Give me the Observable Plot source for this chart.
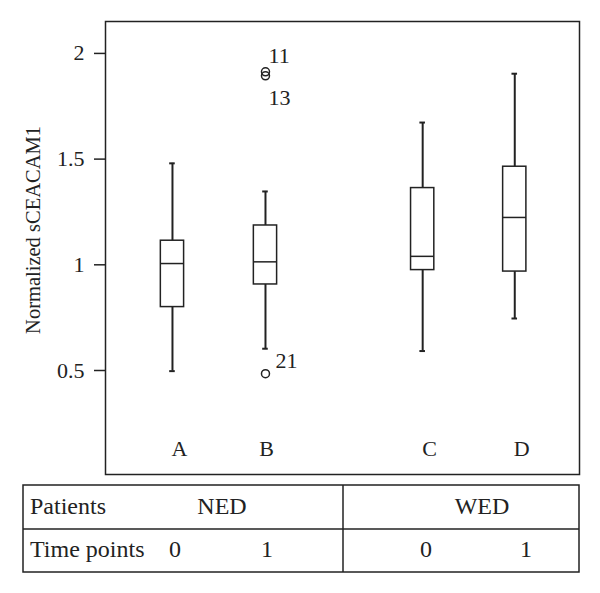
<!DOCTYPE html>
<html><head><meta charset="utf-8">
<script src="https://cdn.jsdelivr.net/npm/d3@7"></script>
<script src="https://cdn.jsdelivr.net/npm/@observablehq/plot@0.6"></script>
<style>body{margin:0;background:#fff;} svg{display:block;}</style>
</head><body><div id="chart"></div><script>
// Box-plot summary values
const groups = ["A", "B", "C", "D"];
const groupPos = [1, 2, 3.69, 4.68];
const whiskerLow = [0.497, 0.603, 0.592, 0.746];
const q1 = [0.800, 0.907, 0.975, 0.968];
const median = [1.006, 1.014, 1.040, 1.224];
const q3 = [1.114, 1.186, 1.363, 1.464];
const whiskerHigh = [1.480, 1.347, 1.673, 1.904];
// Outliers
const outlierGroup = ["B", "B", "B"];
const outlierValue = [1.913, 1.894, 0.485];
const outlierLabel = ["11", "13", "21"];
// Axis
const yTicks = [0.5, 1, 1.5, 2];
const yLabel = "Normalized sCEACAM1";
// Table under the chart
const patientGroups = ["NED", "WED"];
const timePoints = ["0", "1"];

const boxes = groups.map((g, i) => ({
  g, x: groupPos[i], lo: whiskerLow[i], q1: q1[i], med: median[i], q3: q3[i], hi: whiskerHigh[i]
}));
const outliers = outlierValue.map((v, i) => ({
  x: groupPos[groups.indexOf(outlierGroup[i])], y: v, label: outlierLabel[i]
}));
const half = 0.125, cap = 0.03;
const ink = "#222";
const font = "'Liberation Serif', 'DejaVu Serif', serif";

const plot = Plot.plot({
  width: 600, height: 480,
  marginLeft: 105, marginRight: 21, marginTop: 21, marginBottom: 6,
  style: {fontFamily: font, fontSize: "21px", color: ink, background: "#fff"},
  x: {domain: [0.28, 5.376], axis: null},
  y: {domain: [0.008, 2.151], axis: null},
  marks: [
    Plot.axisY({ticks: yTicks, tickSize: 11, tickPadding: 10, tickFormat: d => String(d),
      strokeWidth: 1.5, fontSize: 22, label: null}),
    Plot.text([yLabel], {frameAnchor: "left", text: d => d, rotate: -90, dx: -80, dy: -18,
      lineAnchor: "top", textAnchor: "middle", fontSize: 20.5, fill: ink}),
    Plot.ruleX(boxes, {x: "x", y1: "q3", y2: "hi", stroke: ink, strokeWidth: 2}),
    Plot.ruleX(boxes, {x: "x", y1: "lo", y2: "q1", stroke: ink, strokeWidth: 2}),
    Plot.ruleY(boxes, {y: "hi", x1: d => d.x - cap, x2: d => d.x + cap, stroke: ink, strokeWidth: 2}),
    Plot.ruleY(boxes, {y: "lo", x1: d => d.x - cap, x2: d => d.x + cap, stroke: ink, strokeWidth: 2}),
    Plot.rect(boxes, {x1: d => d.x - half, x2: d => d.x + half, y1: "q1", y2: "q3",
      fill: "white", stroke: ink, strokeWidth: 1.5}),
    Plot.ruleY(boxes, {y: "med", x1: d => d.x - half, x2: d => d.x + half, stroke: ink, strokeWidth: 1.5}),
    Plot.dot(outliers, {x: "x", y: "y", r: 4, stroke: ink, strokeWidth: 1.5, fill: "none"}),
    Plot.text(outliers.filter(d => d.label === "11"), {x: "x", y: "y", text: "label",
      textAnchor: "start", lineAnchor: "bottom", dx: 3, dy: -9, fontSize: 22, fill: ink}),
    Plot.text(outliers.filter(d => d.label === "13"), {x: "x", y: "y", text: "label",
      textAnchor: "start", lineAnchor: "bottom", dx: 3, dy: 29, fontSize: 22, fill: ink}),
    Plot.text(outliers.filter(d => d.label === "21"), {x: "x", y: "y", text: "label",
      textAnchor: "start", lineAnchor: "bottom", dx: 10, dy: -6, fontSize: 22, fill: ink}),
    Plot.text(boxes.filter(d => d.g !== "B"), {x: "x", text: "g", frameAnchor: "bottom",
      lineAnchor: "bottom", dx: 7, dy: -19, fontSize: 22, fill: ink}),
    Plot.text(boxes.filter(d => d.g === "B"), {x: "x", text: "g", frameAnchor: "bottom",
      lineAnchor: "bottom", dx: 1, dy: -19, fontSize: 22, fill: ink}),
    Plot.frame({stroke: ink, strokeWidth: 1.5})
  ]
});
document.getElementById("chart").appendChild(plot);

// Table below the chart
const tbl = d3.select("#chart").append("svg")
  .attr("width", 600).attr("height", 113)
  .style("font-family", font).style("font-size", "24px");
const T = {left: 23, right: 579, top: 5, mid: 49, bottom: 92, div: 343};
tbl.append("rect").attr("x", T.left).attr("y", T.top)
  .attr("width", T.right - T.left).attr("height", T.bottom - T.top)
  .attr("fill", "none").attr("stroke", ink).attr("stroke-width", 1.5);
tbl.append("line").attr("x1", T.left).attr("x2", T.right).attr("y1", T.mid).attr("y2", T.mid)
  .attr("stroke", ink).attr("stroke-width", 1.5);
tbl.append("line").attr("x1", T.div).attr("x2", T.div).attr("y1", T.top).attr("y2", T.bottom)
  .attr("stroke", ink).attr("stroke-width", 1.5);
tbl.append("text").attr("x", 30).attr("y", 34).attr("fill", ink).text("Patients");
tbl.append("text").attr("x", 30).attr("y", 77).attr("fill", ink).text("Time points");
const groupCenters = [222, 482];
patientGroups.forEach((p, i) => {
  tbl.append("text").attr("x", groupCenters[i]).attr("y", 34).attr("text-anchor", "middle")
    .attr("fill", ink).text(p);
});
const timeCenters = [[175, 267], [426, 526]];
patientGroups.forEach((p, i) => {
  timePoints.forEach((t, j) => {
    tbl.append("text").attr("x", timeCenters[i][j]).attr("y", 77).attr("text-anchor", "middle")
      .attr("fill", ink).text(t);
  });
});
</script></body></html>
